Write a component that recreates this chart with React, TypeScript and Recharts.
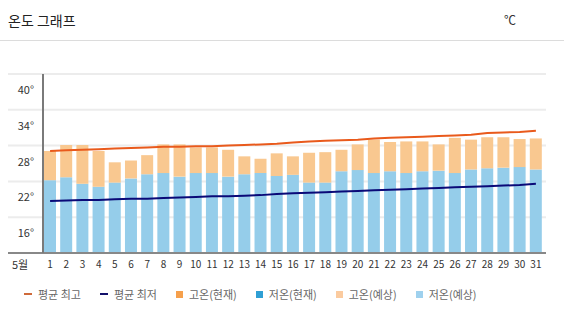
import { ComposedChart, Bar, Line, XAxis, YAxis, CartesianGrid } from "recharts";

// 5월 일자
const days = [
  "1", "2", "3", "4", "5", "6", "7", "8", "9", "10", "11", "12", "13", "14", "15", "16",
  "17", "18", "19", "20", "21", "22", "23", "24", "25", "26", "27", "28", "29", "30", "31",
];

// 일별 예상 고온 / 저온
const highs = [
  30.1, 31.1, 31.1, 30.1, 28.2, 28.5, 29.4, 31.2, 31.2, 30.7, 30.7, 30.3, 29.2, 28.8, 29.7, 29.2,
  29.8, 29.9, 30.3, 31.2, 32.0, 31.6, 31.7, 31.7, 31.2, 32.3, 32.0, 32.4, 32.4, 32.1, 32.2,
];
const lows = [
  25.2, 25.7, 24.6, 24.1, 24.8, 25.5, 26.2, 26.4, 25.8, 26.4, 26.4, 25.8, 26.2, 26.4, 25.9, 26.1,
  24.8, 24.8, 26.7, 26.9, 26.4, 26.7, 26.4, 26.7, 26.8, 26.4, 27.0, 27.2, 27.3, 27.4, 27.0,
];

// 평균 최고 / 최저
const avgHigh = [
  30.1, 30.2, 30.3, 30.4, 30.5, 30.6, 30.7, 30.8, 30.8, 30.9, 30.9, 31.0, 31.1, 31.2, 31.3, 31.5,
  31.7, 31.8, 31.9, 32.0, 32.2, 32.3, 32.4, 32.5, 32.6, 32.7, 32.8, 33.1, 33.2, 33.3, 33.5,
];
const avgLow = [
  21.7, 21.8, 21.9, 21.9, 22.0, 22.1, 22.1, 22.2, 22.3, 22.4, 22.5, 22.5, 22.6, 22.7, 22.9, 23.0,
  23.1, 23.2, 23.3, 23.4, 23.5, 23.6, 23.7, 23.8, 23.9, 24.0, 24.1, 24.2, 24.3, 24.4, 24.6,
];

const gridTicks = [13, 19, 25, 31, 37, 43];
const labelTicks = [16, 22, 28, 34, 40];

const data = days.map((d, i) => ({
  day: d,
  low: lows[i],
  span: +(highs[i] - lows[i]).toFixed(1),
  avgHigh: avgHigh[i],
  avgLow: avgLow[i],
}));

const FONT = "'Noto Sans CJK KR', 'Noto Sans', sans-serif";

const legendItems = [
  { label: "평균 최고", color: "#cf6a3a", kind: "line" },
  { label: "평균 최저", color: "#12106a", kind: "line" },
  { label: "고온(현재)", color: "#f6a04c", kind: "box" },
  { label: "저온(현재)", color: "#2f9fd4", kind: "box" },
  { label: "고온(예상)", color: "#fbcb9f", kind: "box" },
  { label: "저온(예상)", color: "#9fd1ee", kind: "box" },
];

const renderYTick = (props: any) => (
  <text
    key={`yt-${props.payload.value}`}
    x={34}
    y={props.y}
    dy={-3}
    textAnchor="end"
    dominantBaseline="central"
    fontSize={11}
    fill="#333"
    fontFamily={FONT}
  >
    {props.payload.value}°
  </text>
);

const renderNoTick = (props: any) => <g key={`gt-${props.payload.value}`} />;

const App = () => {
  return (
    <div style={{ position: "absolute", left: 0, top: 0, width: 564, height: 323, background: "#fff", fontFamily: FONT }}>
      <div style={{ position: "absolute", left: 8, top: 10, fontSize: 14, color: "#222", lineHeight: "20px" }}>온도 그래프</div>
      <div style={{ position: "absolute", left: 504, top: 11, fontSize: 12, color: "#333", lineHeight: "18px" }}>℃</div>
      <div style={{ position: "absolute", left: 0, top: 40, width: 564, height: 1, background: "#dcdcdc" }} />

      <ComposedChart
        width={564}
        height={323}
        data={data}
        margin={{ top: 74, right: 18, bottom: 40, left: 7 }}
        barCategoryGap={2}
      >
        <CartesianGrid vertical={false} yAxisId="g" stroke="#ececec" strokeWidth={2} />
        <XAxis
          dataKey="day"
          interval={0}
          height={30}
          padding={{ left: 34, right: 2 }}
          tickLine={false}
          axisLine={{ stroke: "#888", strokeWidth: 2 }}
          tick={{ fontSize: 10, fill: "#333", fontFamily: FONT }}
        />
        <YAxis
          yAxisId="g"
          width={0}
          type="number"
          domain={[13, 43]}
          allowDataOverflow
          ticks={gridTicks}
          interval={0}
          tick={renderNoTick}
          tickLine={false}
          axisLine={false}
        />
        <YAxis
          yAxisId="l"
          width={1}
          type="number"
          domain={[13, 43]}
          allowDataOverflow
          ticks={labelTicks}
          interval={0}
          tick={renderYTick}
          tickLine={false}
          axisLine={false}
        />
        <Bar yAxisId="g" dataKey="low" stackId="t" fill="#95cdea" isAnimationActive={false} />
        <Bar yAxisId="g" dataKey="span" stackId="t" fill="#f9c890" isAnimationActive={false} />
        <Line yAxisId="l" type="linear" dataKey="avgHigh" stroke="#e95a1c" strokeWidth={2} dot={false} isAnimationActive={false} />
        <Line yAxisId="l" type="linear" dataKey="avgLow" stroke="#0a0a78" strokeWidth={2} dot={false} isAnimationActive={false} />
      </ComposedChart>

      <div style={{ position: "absolute", left: 42, top: 74, width: 1.5, height: 179, background: "#7a7a7a" }} />
      <div style={{ position: "absolute", left: 12, top: 256, fontSize: 11, color: "#333", lineHeight: "16px" }}>5월</div>

      <div style={{ position: "absolute", left: 24, top: 286, display: "flex", alignItems: "center", fontSize: 11, color: "#666", lineHeight: "16px" }}>
        {legendItems.map((it) => (
          <div key={it.label} style={{ display: "flex", alignItems: "center", marginRight: 19 }}>
            <span
              style={{
                display: "inline-block",
                width: it.kind === "line" ? 8 : 7,
                height: it.kind === "line" ? 2 : 7,
                background: it.color,
                marginRight: 6,
              }}
            />
            <span>{it.label}</span>
          </div>
        ))}
      </div>
    </div>
  );
};

export default App;
